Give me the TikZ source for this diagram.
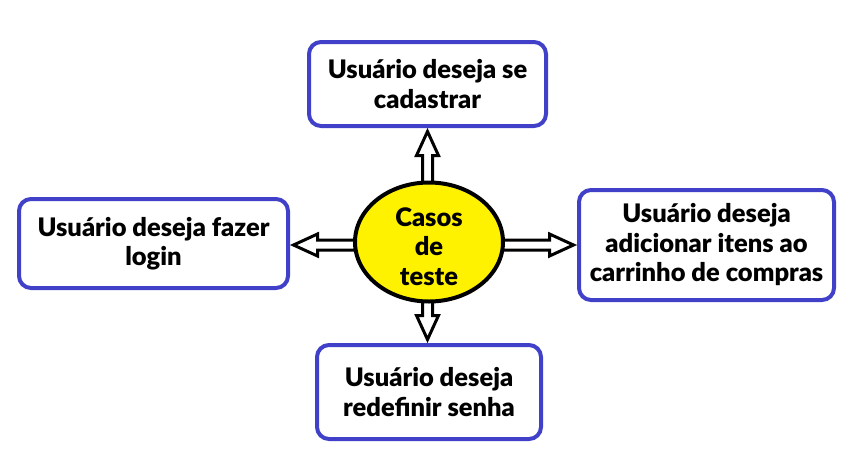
\documentclass[tikz,border=0pt]{standalone}
\usepackage{fontspec}
\setmainfont{Lato}[BoldFont={Lato Black}]
\usetikzlibrary{calc,backgrounds,shapes.geometric}
\definecolor{boxblue}{RGB}{64,64,200}
\definecolor{hubyellow}{RGB}{255,242,0}
\tikzset{
  lbl/.style={font=\fontsize{25.5}{29.5}\selectfont\bfseries, align=center},
  box/.style={lbl, draw=boxblue, line width=4pt, rounded corners=12pt, fill=white, inner sep=0pt},
  hub/.style={ellipse, draw=black, line width=4pt, fill=hubyellow, inner sep=0pt},
  hollow/.style={draw=black, fill=white, line width=3pt, line join=miter},
}
\newcommand\hollowarrow[2]{%
  \coordinate (hb) at ($(#2)!24pt!(#1)$);
  \draw[hollow] ($(#1)!5pt!90:(#2)$) -- ($(hb)!5pt!90:(#2)$) -- ($(hb)!11pt!90:(#2)$)
    -- (#2) -- ($(hb)!11pt!-90:(#2)$) -- ($(hb)!5pt!-90:(#2)$) -- ($(#1)!5pt!-90:(#2)$) -- cycle;
}
\begin{document}
\begin{tikzpicture}[x=1pt,y=-1pt]
  \useasboundingbox (0,0) rectangle (860,472);
  \node[box, minimum width=237pt, minimum height=84pt] (top) at (427.5,84) {Usuário deseja se\\cadastrar};
  \node[box, minimum width=269pt, minimum height=89pt] (left) at (153.5,243.5) {Usuário deseja fazer\\login};
  \node[box, minimum width=255pt, minimum height=110pt] (right) at (706.5,245) {Usuário deseja\\adicionar itens ao\\carrinho de compras};
  \node[box, minimum width=224pt, minimum height=94pt] (bottom) at (429,392) {Usuário deseja\\redefinir senha};
  \node[hub, minimum width=148pt, minimum height=119pt] (c) at (429,242) {};
  \node[lbl] (ct) at (429,246.5) {Casos\\de\\teste};
  \coordinate (o) at (427.5,245);
  \begin{pgfonlayer}{background}
    \coordinate (tt) at ($(o |- top.south)+(0,3.5)$);
    \coordinate (tb) at ($(o |- bottom.north)+(0,-3.5)$);
    \coordinate (tl) at ($(left.east |- o)+(3.5,0)$);
    \coordinate (tr) at ($(right.west |- o)+(-3.5,0)$);
    \hollowarrow{o}{tt}
    \hollowarrow{o}{tb}
    \hollowarrow{o}{tl}
    \hollowarrow{o}{tr}
  \end{pgfonlayer}
\end{tikzpicture}
\end{document}
